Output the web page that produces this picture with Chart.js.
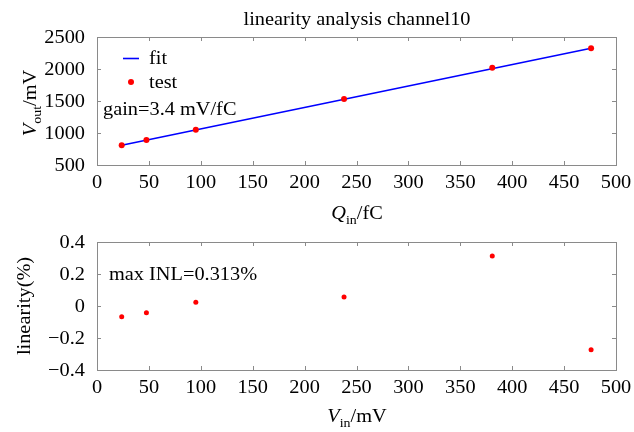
<!DOCTYPE html>
<html><head><meta charset="utf-8">
<script src="https://cdn.jsdelivr.net/npm/chart.js@4.4.1/dist/chart.umd.min.js"></script>
<style>
html,body{margin:0;padding:0;background:#fff;}
#wrap{position:relative;width:634px;height:432px;}
.c{position:absolute;left:0;width:634px;}
</style></head>
<body><div id="wrap">
<div class="c" style="top:0;height:230px"><canvas id="top"></canvas></div>
<div class="c" style="top:230px;height:202px"><canvas id="bot"></canvas></div>
</div>
<script>
// ---- data ----
const chargeIn = [23.8, 47.6, 95.2, 238, 380.8, 476];      // Q_in / fC
const voltOut  = [808, 891, 1052, 1531, 2020, 2323];        // V_out / mV
const fitX     = [23.8, 476];
const fitY     = [808, 2323];
const inputV   = [23.8, 47.6, 95.2, 238, 380.8, 476];       // V_in / mV
const linearity= [-0.067, -0.042, 0.023, 0.056, 0.313, -0.273]; // %
const xTicks   = [0,50,100,150,200,250,300,350,400,450,500];
const yTicksTop= [500,1000,1500,2000,2500];
const yTicksBot= [-0.4,-0.2,0,0.2,0.4];
const titleText= 'linearity analysis channel10';
const gainText = 'gain=3.4 mV/fC';
const inlText  = 'max INL=0.313%';

const SERIF = '"Liberation Serif","Times New Roman",serif';
const FRAME = '#8a8a8a';
const FS = 19;      // main font size
const SX = 1.07;    // horizontal stretch of the reference text

function txt(ctx, s, x, y, align, font){
  ctx.save();
  ctx.font = font || (FS+'px '+SERIF);
  const w = ctx.measureText(s).width*SX;
  let x0 = x;
  if(align==='center') x0 = x - w/2; else if(align==='right') x0 = x - w;
  ctx.translate(x0, y); ctx.scale(SX,1);
  ctx.textAlign='left';
  ctx.fillText(s, 0, 0);
  ctx.restore();
  return w;
}
function measureParts(ctx, parts){
  let w=0;
  parts.forEach(p=>{ ctx.font=(p.italic?'italic ':'')+(p.sub?13:FS)+'px '+SERIF; w+=ctx.measureText(p.t).width*SX; });
  return w;
}
function partsCentered(ctx, cx, y, parts){
  let x = cx - measureParts(ctx, parts)/2;
  parts.forEach(p=>{
    const f=(p.italic?'italic ':'')+(p.sub?13:FS)+'px '+SERIF;
    x += txt(ctx, p.t, x, y + (p.sub?5:0), 'left', f);
  });
}

const fmtTop = v => String(v);
const fmtBot = v => { const r = Math.round(v*10)/10; if(r===0) return '0'; return (r<0?'\u2212':'') + Math.abs(r).toFixed(1); };

const framePlugin = {
  id:'frame',
  afterDraw(chart, args, opts){
    const {ctx, chartArea:a, scales} = chart;
    ctx.save();
    ctx.strokeStyle = FRAME; ctx.lineWidth = 1;
    ctx.strokeRect(Math.round(a.left)+0.5, Math.round(a.top)+0.5, Math.round(a.right-a.left), Math.round(a.bottom-a.top));
    const L = 4;
    ctx.beginPath();
    scales.x.ticks.forEach(t=>{
      const px = Math.round(scales.x.getPixelForValue(t.value))+0.5;
      ctx.moveTo(px, a.bottom); ctx.lineTo(px, a.bottom-L);
      ctx.moveTo(px, a.top); ctx.lineTo(px, a.top+L);
    });
    scales.y.ticks.forEach(t=>{
      const py = Math.round(scales.y.getPixelForValue(t.value))+0.5;
      ctx.moveTo(a.left, py); ctx.lineTo(a.left+L, py);
      ctx.moveTo(a.right, py); ctx.lineTo(a.right-L, py);
    });
    ctx.stroke();
    ctx.fillStyle='#000'; ctx.textBaseline='middle';
    const fmt = opts.fmt;
    scales.x.ticks.forEach(t=>{
      txt(ctx, fmt.x(t.value), scales.x.getPixelForValue(t.value), a.bottom+18, 'center');
    });
    scales.y.ticks.forEach(t=>{
      txt(ctx, fmt.y(t.value), a.left-12, scales.y.getPixelForValue(t.value)+1, 'right');
    });
    ctx.restore();
  }
};

const scaleCfg = (min,max,ticks,isY,axH)=>({
  type:'linear', min, max,
  afterBuildTicks: s=>{ s.ticks = ticks.map(v=>({value:v})); },
  ticks:{ display:false },
  grid:{ display:false, drawTicks:false },
  border:{ display:false },
  afterFit: s=>{ if(isY) s.width = 97; else s.height = axH; }
});

const topOverlay = {
  id:'topOverlay',
  afterDraw(chart){
    const {ctx, chartArea:a} = chart;
    ctx.save();
    ctx.fillStyle='#000'; ctx.textBaseline='alphabetic';
    txt(ctx, titleText, 357, 25, 'center');
    ctx.strokeStyle='#0000ff'; ctx.lineWidth=1.6;
    ctx.beginPath(); ctx.moveTo(123,58.5); ctx.lineTo(139,58.5); ctx.stroke();
    ctx.fillStyle='#ff0000';
    ctx.beginPath(); ctx.arc(131,82,3,0,Math.PI*2); ctx.fill();
    ctx.fillStyle='#000';
    txt(ctx, 'fit', 149, 64, 'left');
    txt(ctx, 'test', 149, 88, 'left');
    txt(ctx, gainText, 103, 115, 'left');
    partsCentered(ctx, 357, 219, [{t:'Q',italic:true},{t:'in',sub:true},{t:'/fC'}]);
    ctx.translate(36, (a.top+a.bottom)/2 + 2);
    ctx.rotate(-Math.PI/2);
    partsCentered(ctx, 0, 0, [{t:'V',italic:true},{t:'out',sub:true},{t:'/mV'}]);
    ctx.restore();
  }
};
const botOverlay = {
  id:'botOverlay',
  afterDraw(chart){
    const {ctx, chartArea:a} = chart;
    ctx.save();
    ctx.fillStyle='#000'; ctx.textBaseline='alphabetic';
    txt(ctx, inlText, 109, 50, 'left');
    partsCentered(ctx, 357, 192, [{t:'V',italic:true},{t:'in',sub:true},{t:'/mV'}]);
    ctx.translate(30, (a.top+a.bottom)/2);
    ctx.rotate(-Math.PI/2);
    txt(ctx, 'linearity(%)', 0, 0, 'center');
    ctx.restore();
  }
};

new Chart(document.getElementById('top'), {
  type:'scatter',
  data:{ datasets:[
    { type:'line', label:'fit', data: fitX.map((x,i)=>({x, y:fitY[i]})), borderColor:'#0000ff', borderWidth:1.6, pointRadius:0, fill:false, order:2 },
    { label:'test', data: chargeIn.map((x,i)=>({x, y:voltOut[i]})), backgroundColor:'#ff0000', borderColor:'#ff0000', pointRadius:3, pointBorderWidth:0, order:1 }
  ]},
  options:{
    responsive:true, maintainAspectRatio:false, animation:false,
    layout:{ padding:{ left:0, right:18, top:37, bottom:0 } },
    plugins:{ legend:{display:false}, tooltip:{enabled:false}, frame:{ fmt:{x:fmtTop, y:fmtTop} } },
    scales:{ x: scaleCfg(0,500,xTicks,false,65), y: scaleCfg(500,2500,yTicksTop,true) }
  },
  plugins:[framePlugin, topOverlay]
});

new Chart(document.getElementById('bot'), {
  type:'scatter',
  data:{ datasets:[
    { label:'linearity', data: inputV.map((x,i)=>({x, y:linearity[i]})), backgroundColor:'#ff0000', borderColor:'#ff0000', pointRadius:2.5, pointBorderWidth:0 }
  ]},
  options:{
    responsive:true, maintainAspectRatio:false, animation:false,
    layout:{ padding:{ left:0, right:18, top:12, bottom:0 } },
    plugins:{ legend:{display:false}, tooltip:{enabled:false}, frame:{ fmt:{x:fmtTop, y:fmtBot} } },
    scales:{ x: scaleCfg(0,500,xTicks,false,62), y: scaleCfg(-0.4,0.4,yTicksBot,true) }
  },
  plugins:[framePlugin, botOverlay]
});
</script>
</body></html>
